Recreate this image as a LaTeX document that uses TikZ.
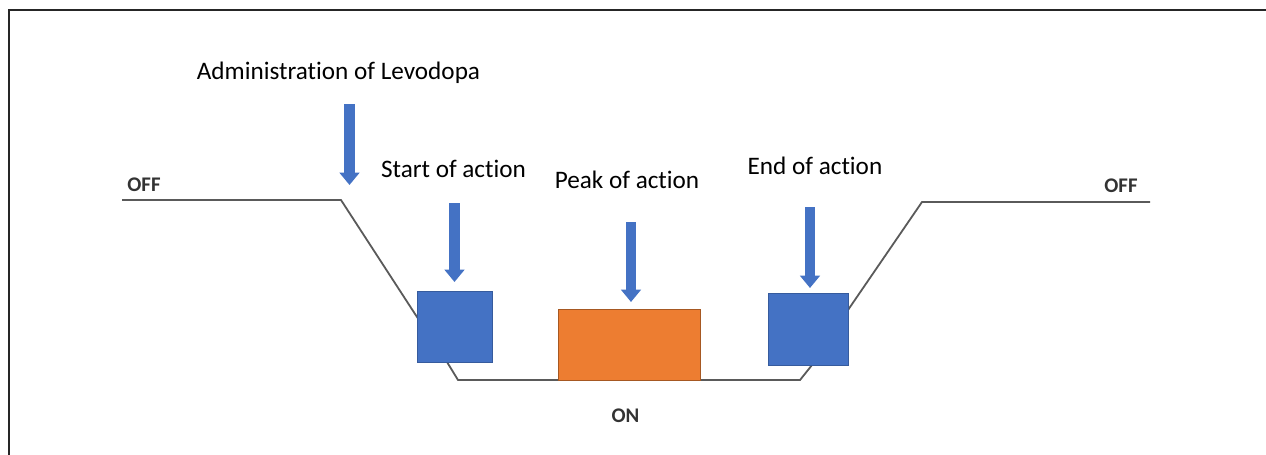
\documentclass[tikz,border=0pt]{standalone}
\usepackage{fontspec}
\setmainfont{Carlito}[Ligatures={NoCommon}]
\usetikzlibrary{arrows.meta}
\definecolor{doseblue}{HTML}{4472C4}
\definecolor{peakorange}{HTML}{ED7D31}
\definecolor{tracegray}{HTML}{5A5A5A}
\tikzset{
  phase/.style={draw=doseblue!80!black, line width=0.3pt, inner sep=0pt},
  pointer/.style={draw=doseblue, line width=5.3pt, -{Triangle[width=9.8pt,length=6.2pt]}},
  caption/.style={anchor=base, inner sep=0pt, font=\fontsize{12.6}{14}\selectfont},
  state/.style={anchor=base, inner sep=0pt, font=\fontsize{10.4}{12}\selectfont\bfseries, text=black!80}
}

\begin{document}
\begin{tikzpicture}[x=0.5pt,y=-0.5pt]
        \useasboundingbox (0,0) rectangle (1266,455);
        % frame
        \draw[black!85, line width=0.6pt] (9,455) -- (9,10) -- (1266,10);

        % trace
        \draw[tracegray, line width=0.9pt] (122,200) -- (341,200) -- (417,317) -- (447,362)
              -- (458,380) -- (800,380) -- (812,365) -- (848,310) -- (922,202) -- (1150,202);

        % phases
        \node[phase, fill=doseblue, minimum width=37.5pt, minimum height=35.5pt] (start) at (454.5,326.5) {};
        \node[phase, fill=peakorange, draw=peakorange!70!black, minimum width=71pt, minimum height=35.5pt] (peak) at (629,344.5) {};
        \node[phase, fill=doseblue, minimum width=40pt, minimum height=36pt] (end) at (808,329) {};

        % labels
        \node[caption] (admin) at (338.5,79) {Administration of Levodopa};
        \node[caption] (startlabel) at (453.5,177) {Start of action};
        \node[caption] (peaklabel) at (627,188) {Peak of action};
        \node[caption] (endlabel) at (815,174) {End of action};
        \node[state] (offleft) at (144,191) {OFF};
        \node[state] (offright) at (1121,192) {OFF};
        \node[state] (on) at (625.5,422) {ON};

        % arrows
        \coordinate (a1) at (349.5,104);
        \coordinate (a2) at (349.5,185);
        \coordinate (b1) at (454.5,203);
        \coordinate (b2) at (454.5,282);
        \coordinate (c1) at (631,222);
        \coordinate (c2) at (631,302);
        \coordinate (d1) at (810,207);
        \coordinate (d2) at (810,288);
        \draw[pointer] (a1) -- (a2);
        \draw[pointer] (b1) -- (b2);
        \draw[pointer] (c1) -- (c2);
        \draw[pointer] (d1) -- (d2);
    \end{tikzpicture}
\end{document}
